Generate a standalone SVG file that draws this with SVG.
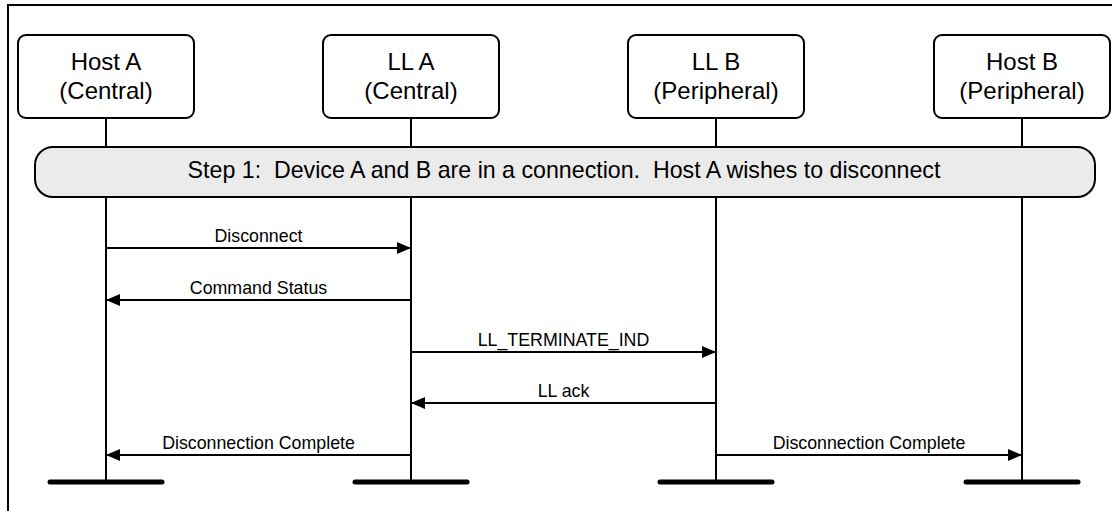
<svg xmlns="http://www.w3.org/2000/svg" width="1112" height="511" viewBox="0 0 1112 511">
<defs>
<style>
.frame{fill:none;stroke:#000;stroke-width:2}
.box{fill:#fff;stroke:#000;stroke-width:2}
.life{stroke:#000;stroke-width:2;fill:none}
.bar{stroke:#000;stroke-width:5;stroke-linecap:round}
.step{fill:#ebebeb;stroke:#000;stroke-width:2}
.msg{stroke:#000;stroke-width:2;fill:none}
.nt{font-family:"Liberation Sans",Arial,sans-serif;font-size:24px;text-anchor:middle;fill:#000}
.st{font-family:"Liberation Sans",Arial,sans-serif;font-size:23.2px;text-anchor:middle;fill:#000}
.ml{font-family:"Liberation Sans",Arial,sans-serif;font-size:17.8px;text-anchor:middle;fill:#000}
</style>
<marker id="ah" viewBox="0 0 14 12" refX="14" refY="6" markerWidth="14" markerHeight="12" markerUnits="userSpaceOnUse" orient="auto">
<path d="M0,0 L14,6 L0,12 Z" fill="#000"/>
</marker>
</defs>
<rect x="0" y="0" width="1112" height="511" fill="#fff"/>
<path class="frame" d="M8,511 V5 H1112"/>
<g id="lifelines">
<line class="life" x1="106" y1="118" x2="106" y2="482"/>
<line class="life" x1="411" y1="118" x2="411" y2="482"/>
<line class="life" x1="716" y1="118" x2="716" y2="482"/>
<line class="life" x1="1022" y1="118" x2="1022" y2="482"/>
<line class="bar" x1="50" y1="482" x2="162" y2="482"/>
<line class="bar" x1="355" y1="482" x2="467" y2="482"/>
<line class="bar" x1="660" y1="482" x2="772" y2="482"/>
<line class="bar" x1="966" y1="482" x2="1078" y2="482"/>
</g>
<g id="hostA">
<rect class="box" x="18" y="35" width="176" height="83" rx="8"/>
<text class="nt" x="106" y="70">Host A</text>
<text class="nt" x="106" y="99">(Central)</text>
</g>
<g id="llA">
<rect class="box" x="323" y="35" width="176" height="83" rx="8"/>
<text class="nt" x="411" y="70">LL A</text>
<text class="nt" x="411" y="99">(Central)</text>
</g>
<g id="llB">
<rect class="box" x="628" y="35" width="176" height="83" rx="8"/>
<text class="nt" x="716" y="70">LL B</text>
<text class="nt" x="716" y="99">(Peripheral)</text>
</g>
<g id="hostB">
<rect class="box" x="934" y="35" width="176" height="83" rx="8"/>
<text class="nt" x="1022" y="70">Host B</text>
<text class="nt" x="1022" y="99">(Peripheral)</text>
</g>
<g id="step1">
<rect class="step" x="35" y="147" width="1060" height="50" rx="18"/>
<text class="st" x="564" y="178" xml:space="preserve">Step 1:  Device A and B are in a connection.  Host A wishes to disconnect</text>
</g>
<g id="connectors">
<line class="msg" x1="106" y1="248" x2="411" y2="248" marker-end="url(#ah)"/>
<text class="ml" x="258.5" y="242">Disconnect</text>
<line class="msg" x1="411" y1="300" x2="106" y2="300" marker-end="url(#ah)"/>
<text class="ml" x="258.5" y="294">Command Status</text>
<line class="msg" x1="411" y1="352" x2="716" y2="352" marker-end="url(#ah)"/>
<text class="ml" x="563.5" y="346">LL_TERMINATE_IND</text>
<line class="msg" x1="716" y1="403" x2="411" y2="403" marker-end="url(#ah)"/>
<text class="ml" x="563.5" y="397">LL ack</text>
<line class="msg" x1="411" y1="455" x2="106" y2="455" marker-end="url(#ah)"/>
<text class="ml" x="258.5" y="449">Disconnection Complete</text>
<line class="msg" x1="716" y1="455" x2="1022" y2="455" marker-end="url(#ah)"/>
<text class="ml" x="869" y="449">Disconnection Complete</text>
</g>
</svg>
